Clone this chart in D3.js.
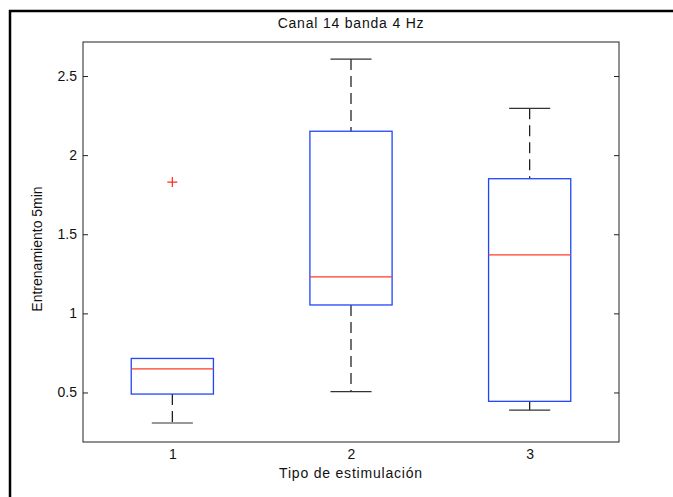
<!DOCTYPE html>
<html>
<head>
<meta charset="utf-8">
<script src="https://cdn.jsdelivr.net/npm/d3@7"></script>
<style>
  html, body { margin: 0; padding: 0; background: #fff; }
  svg { display: block; }
  text { font-family: "Liberation Sans", Arial, Helvetica, sans-serif; fill: #111; }
</style>
</head>
<body>
<svg id="chart" width="673" height="497"></svg>
<script>
// ---- data ----
const categories = ["1", "2", "3"];
const lowerWhisker = [0.307, 0.505, 0.389];
const q1Values = [0.490, 1.053, 0.444];
const medianValues = [0.649, 1.230, 1.369];
const q3Values = [0.715, 2.151, 1.851];
const upperWhisker = [0.715, 2.607, 2.296];
const outlierValues = [[1.83], [], []];
const yTickValues = [0.5, 1, 1.5, 2, 2.5];
const titleText = "Canal 14 banda 4 Hz";
const xLabelText = "Tipo de estimulación";
const yLabelText = "Entrenamiento 5min";

// ---- layout ----
const W = 673, H = 497;
const plot = { left: 83, right: 619, top: 42, bottom: 442 };
const svg = d3.select("#chart");

svg.append("rect").attr("width", W).attr("height", H).attr("fill", "#fff");

// outer frame (only top and left edges visible)
svg.append("path")
  .attr("d", `M10,${H} V11 H${W}`)
  .attr("fill", "none").attr("stroke", "#000").attr("stroke-width", 2.5);

const x = d3.scalePoint().domain(categories).range([plot.left, plot.right]).padding(0.5);
const y = d3.scaleLinear().domain([0.187, 2.715]).range([plot.bottom, plot.top]);
const step = x.step();
const boxW = step * 0.46;
const capW = boxW / 2;

// axes frame
svg.append("rect")
  .attr("x", plot.left).attr("y", plot.top)
  .attr("width", plot.right - plot.left).attr("height", plot.bottom - plot.top)
  .attr("fill", "none").attr("stroke", "#222").attr("stroke-width", 1);

// y axis (left) with inward ticks
const yAxis = svg.append("g")
  .attr("transform", `translate(${plot.left},0)`)
  .call(d3.axisLeft(y).tickValues(yTickValues).tickSize(-5).tickPadding(6).tickFormat(d3.format("")));
yAxis.select(".domain").remove();
yAxis.selectAll(".tick line").attr("stroke", "#222");
yAxis.selectAll(".tick text").style("font-size", "14px").attr("fill", "#111")
  .style("font-family", "'Liberation Sans', Arial, sans-serif");

// y axis (right) mirrored ticks
const yAxisR = svg.append("g")
  .attr("transform", `translate(${plot.right},0)`)
  .call(d3.axisRight(y).tickValues(yTickValues).tickSize(-5).tickFormat(""));
yAxisR.select(".domain").remove();
yAxisR.selectAll(".tick line").attr("stroke", "#222");

// x axis labels
const xAxis = svg.append("g")
  .attr("transform", `translate(0,${plot.bottom})`)
  .call(d3.axisBottom(x).tickSize(0).tickPadding(7));
xAxis.select(".domain").remove();
xAxis.selectAll(".tick text").style("font-size", "14px").attr("fill", "#111")
  .style("font-family", "'Liberation Sans', Arial, sans-serif");

// boxplots
const idx = categories.map((c, i) => i);
const g = svg.append("g");

idx.forEach(i => {
  const cx = x(categories[i]);
  // whiskers (dashed) and caps, only where whisker extends past box
  if (upperWhisker[i] > q3Values[i]) {
    g.append("line").attr("x1", cx).attr("x2", cx)
      .attr("y1", y(upperWhisker[i])).attr("y2", y(q3Values[i]))
      .attr("stroke", "#111").attr("stroke-width", 1.2).attr("stroke-dasharray", "11,6");
    g.append("line").attr("x1", cx - capW / 2).attr("x2", cx + capW / 2)
      .attr("y1", y(upperWhisker[i])).attr("y2", y(upperWhisker[i]))
      .attr("stroke", "#333").attr("stroke-width", 1.2);
  }
  if (lowerWhisker[i] < q1Values[i]) {
    g.append("line").attr("x1", cx).attr("x2", cx)
      .attr("y1", y(q1Values[i])).attr("y2", y(lowerWhisker[i]))
      .attr("stroke", "#111").attr("stroke-width", 1.2).attr("stroke-dasharray", "11,6");
    g.append("line").attr("x1", cx - capW / 2).attr("x2", cx + capW / 2)
      .attr("y1", y(lowerWhisker[i])).attr("y2", y(lowerWhisker[i]))
      .attr("stroke", "#333").attr("stroke-width", 1.2);
  }
  // box
  g.append("rect")
    .attr("x", cx - boxW / 2).attr("y", y(q3Values[i]))
    .attr("width", boxW).attr("height", y(q1Values[i]) - y(q3Values[i]))
    .attr("fill", "none").attr("stroke", "#1f45ff").attr("stroke-width", 1.3);
  // median
  g.append("line").attr("x1", cx - boxW / 2).attr("x2", cx + boxW / 2)
    .attr("y1", y(medianValues[i])).attr("y2", y(medianValues[i]))
    .attr("stroke", "#ff3a2a").attr("stroke-width", 1.2);
  // outliers
  outlierValues[i].forEach(v => {
    const oy = y(v);
    g.append("path")
      .attr("d", `M${cx - 5},${oy} H${cx + 5} M${cx},${oy - 5} V${oy + 5}`)
      .attr("stroke", "#ff2a1a").attr("stroke-width", 1.2).attr("fill", "none");
  });
});

// title and labels
const midX = (plot.left + plot.right) / 2;
svg.append("text").attr("x", midX).attr("y", 28).attr("text-anchor", "middle")
  .style("font-size", "14px").style("letter-spacing", "0.8px").text(titleText);
svg.append("text").attr("x", midX).attr("y", 478).attr("text-anchor", "middle")
  .style("font-size", "14px").style("letter-spacing", "0.8px").text(xLabelText);
svg.append("text")
  .attr("transform", `translate(42,${(plot.top + plot.bottom) / 2 + 7}) rotate(-90)`)
  .attr("text-anchor", "middle")
  .style("font-size", "14px").text(yLabelText);
</script>
</body>
</html>
